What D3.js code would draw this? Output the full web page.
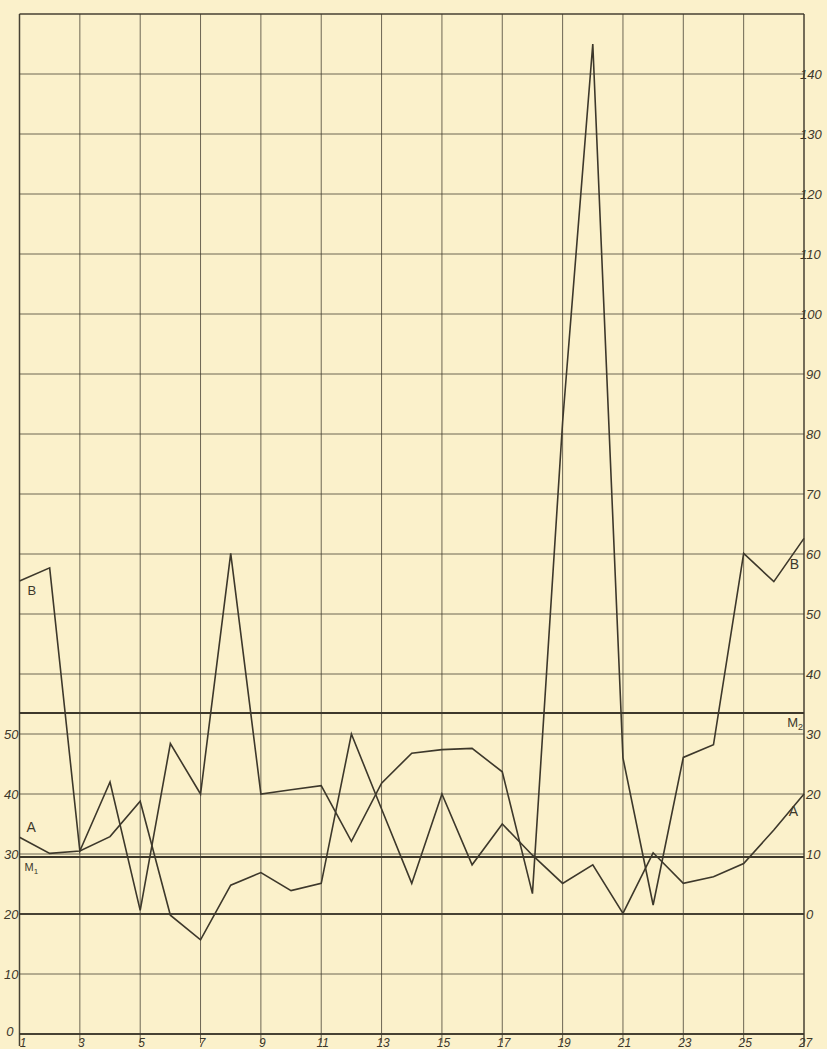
<!DOCTYPE html>
<html>
<head>
<meta charset="utf-8">
<script src="https://cdn.jsdelivr.net/npm/d3@7"></script>
<style>
  html, body { margin: 0; padding: 0; background: #fbf1cb; }
  svg { display: block; }
  .lbl { font-family: "Liberation Sans", "DejaVu Sans", sans-serif; font-style: italic; fill: #3d382b; }
</style>
</head>
<body>
<svg id="chart" width="827" height="1049"></svg>
<script>
// Observation index along the bottom
const days = d3.range(1, 28);
const dayTicks = [1, 3, 5, 7, 9, 11, 13, 15, 17, 19, 21, 23, 25, 27];

// Series A, read on the left scale (0–50)
const seriesA = [32.8, 30.1, 30.5, 32.9, 38.8, 19.8, 15.7, 24.8, 26.9, 23.9, 25.1, 50.0, 37.5, 25.1,
                 40.0, 28.2, 35.0, 29.8, 25.1, 28.2, 20.1, 30.2, 25.1, 26.2, 28.4, 34.0, 40.0];
// Series B, read on the right scale (0–140)
const seriesB = [55.5, 57.7, 10.5, 22.0, 0.6, 28.4, 20.0, 60.1, 20.0, 20.7, 21.4, 12.1, 21.8, 26.8,
                 27.4, 27.6, 23.7, 3.4, 82.0, 145.0, 26.0, 1.5, 26.1, 28.2, 60.1, 55.4, 62.6];

// Mean levels: M1 on the left scale, M2 on the right scale
const meanM1 = 29.5;
const meanM2 = 33.5;

// Tick labels
const leftTicks = [0, 10, 20, 30, 40, 50];
const rightTicks = [0, 10, 20, 30, 40, 50, 60, 70, 80, 90, 100, 110, 120, 130, 140];
const leftGrid = d3.range(0, 171, 10);

const svg = d3.select("#chart");
const ink = "#3d382b";

const x = d3.scaleLinear().domain([1, 27]).range([19.5, 804]);
const yL = d3.scaleLinear().domain([0, 170]).range([1034, 14]);
const yR = d3.scaleLinear().domain([-20, 150]).range([1034, 14]);

// Background
svg.append("rect").attr("width", 827).attr("height", 1049).attr("fill", "#fbf1cb");

// Horizontal grid
const grid = svg.append("g");
grid.selectAll("line.h").data(leftGrid).join("line")
  .attr("x1", x(1)).attr("x2", x(27))
  .attr("y1", d => yL(d)).attr("y2", d => yL(d))
  .attr("stroke", ink)
  .attr("stroke-opacity", d => (d === 0 || d === 20 || d === 170) ? 0.95 : 0.75)
  .attr("stroke-width", d => (d === 0 || d === 20) ? 1.8 : (d === 170 ? 1.4 : 1));

// Vertical grid
grid.selectAll("line.v").data(dayTicks).join("line")
  .attr("x1", d => x(d)).attr("x2", d => x(d))
  .attr("y1", yL(170)).attr("y2", d => (d === 1 || d === 27) ? 1046 : 1043)
  .attr("stroke", ink)
  .attr("stroke-opacity", d => (d === 1 || d === 27) ? 0.95 : 0.75)
  .attr("stroke-width", d => (d === 1 || d === 27) ? 1.5 : 1);

// Mean lines
svg.append("line")
  .attr("x1", x(1)).attr("x2", x(27))
  .attr("y1", yL(meanM1)).attr("y2", yL(meanM1))
  .attr("stroke", ink).attr("stroke-width", 2);
svg.append("line")
  .attr("x1", x(1)).attr("x2", x(27))
  .attr("y1", yR(meanM2)).attr("y2", yR(meanM2))
  .attr("stroke", ink).attr("stroke-width", 2);

// Axes (labels only; the grid draws the rules)
const leftAxis = svg.append("g").attr("transform", `translate(${x(1)},0)`)
  .call(d3.axisLeft(yL).tickValues(leftTicks).tickSize(0).tickPadding(1));
const rightAxis = svg.append("g").attr("transform", `translate(${x(27)},0)`)
  .call(d3.axisRight(yR).tickValues(rightTicks).tickSize(0).tickPadding(2));
const bottomAxis = svg.append("g").attr("transform", `translate(0,${yL(0)})`)
  .call(d3.axisBottom(x).tickValues(dayTicks).tickSize(0).tickPadding(4));

[leftAxis, rightAxis, bottomAxis].forEach(g => {
  g.select(".domain").remove();
  g.selectAll("text").attr("class", "lbl").attr("font-size", 13)
    .attr("fill", ink).style("font-family", null);
});
// The "1" of three-digit labels sits on the right rule
rightAxis.selectAll("text")
  .attr("x", d => d >= 100 ? -4 : 2);
leftAxis.selectAll("text").filter(d => d === 0).attr("dy", "0.1em").attr("x", -6);
bottomAxis.selectAll("text").attr("font-size", 12).attr("dy", "0.72em")
  .attr("x", d => d === 1 ? 3 : 1);

// Series lines
const lineA = d3.line().x((d, i) => x(days[i])).y(d => yL(d));
const lineB = d3.line().x((d, i) => x(days[i])).y(d => yR(d));

svg.append("path").datum(seriesA)
  .attr("d", lineA).attr("fill", "none")
  .attr("stroke", ink).attr("stroke-width", 1.6).attr("stroke-linejoin", "miter");
svg.append("path").datum(seriesB)
  .attr("d", lineB).attr("fill", "none")
  .attr("stroke", ink).attr("stroke-width", 1.6).attr("stroke-linejoin", "miter");

// Series and mean labels
const tags = [
  { t: "A", x: x(1) + 7, y: yL(seriesA[0]) - 5, size: 14 },
  { t: "B", x: x(1) + 8, y: yR(seriesB[0]) + 14, size: 13 },
  { t: "A", x: x(27) - 6, y: yL(seriesA[26]) + 22, size: 14, anchor: "end" },
  { t: "B", x: x(27) - 5, y: yR(seriesB[26]) + 31, size: 14, anchor: "end" },
];
svg.selectAll("text.tag").data(tags).join("text")
  .attr("class", "lbl")
  .attr("x", d => d.x).attr("y", d => d.y)
  .attr("text-anchor", d => d.anchor || "start")
  .attr("font-size", d => d.size)
  .style("font-style", "normal")
  .text(d => d.t);

// M1 / M2 labels with subscripts
const m1 = svg.append("text").attr("class", "lbl")
  .attr("x", x(1) + 5).attr("y", yL(meanM1) + 14)
  .attr("font-size", 11).style("font-style", "normal");
m1.append("tspan").text("M");
m1.append("tspan").attr("font-size", 8).attr("dy", 3).text("1");

const m2 = svg.append("text").attr("class", "lbl")
  .attr("x", x(27) - 1).attr("y", yR(meanM2) + 14)
  .attr("text-anchor", "end")
  .attr("font-size", 13).style("font-style", "normal");
m2.append("tspan").text("M");
m2.append("tspan").attr("font-size", 9).attr("dy", 3).text("2");
</script>
</body>
</html>
